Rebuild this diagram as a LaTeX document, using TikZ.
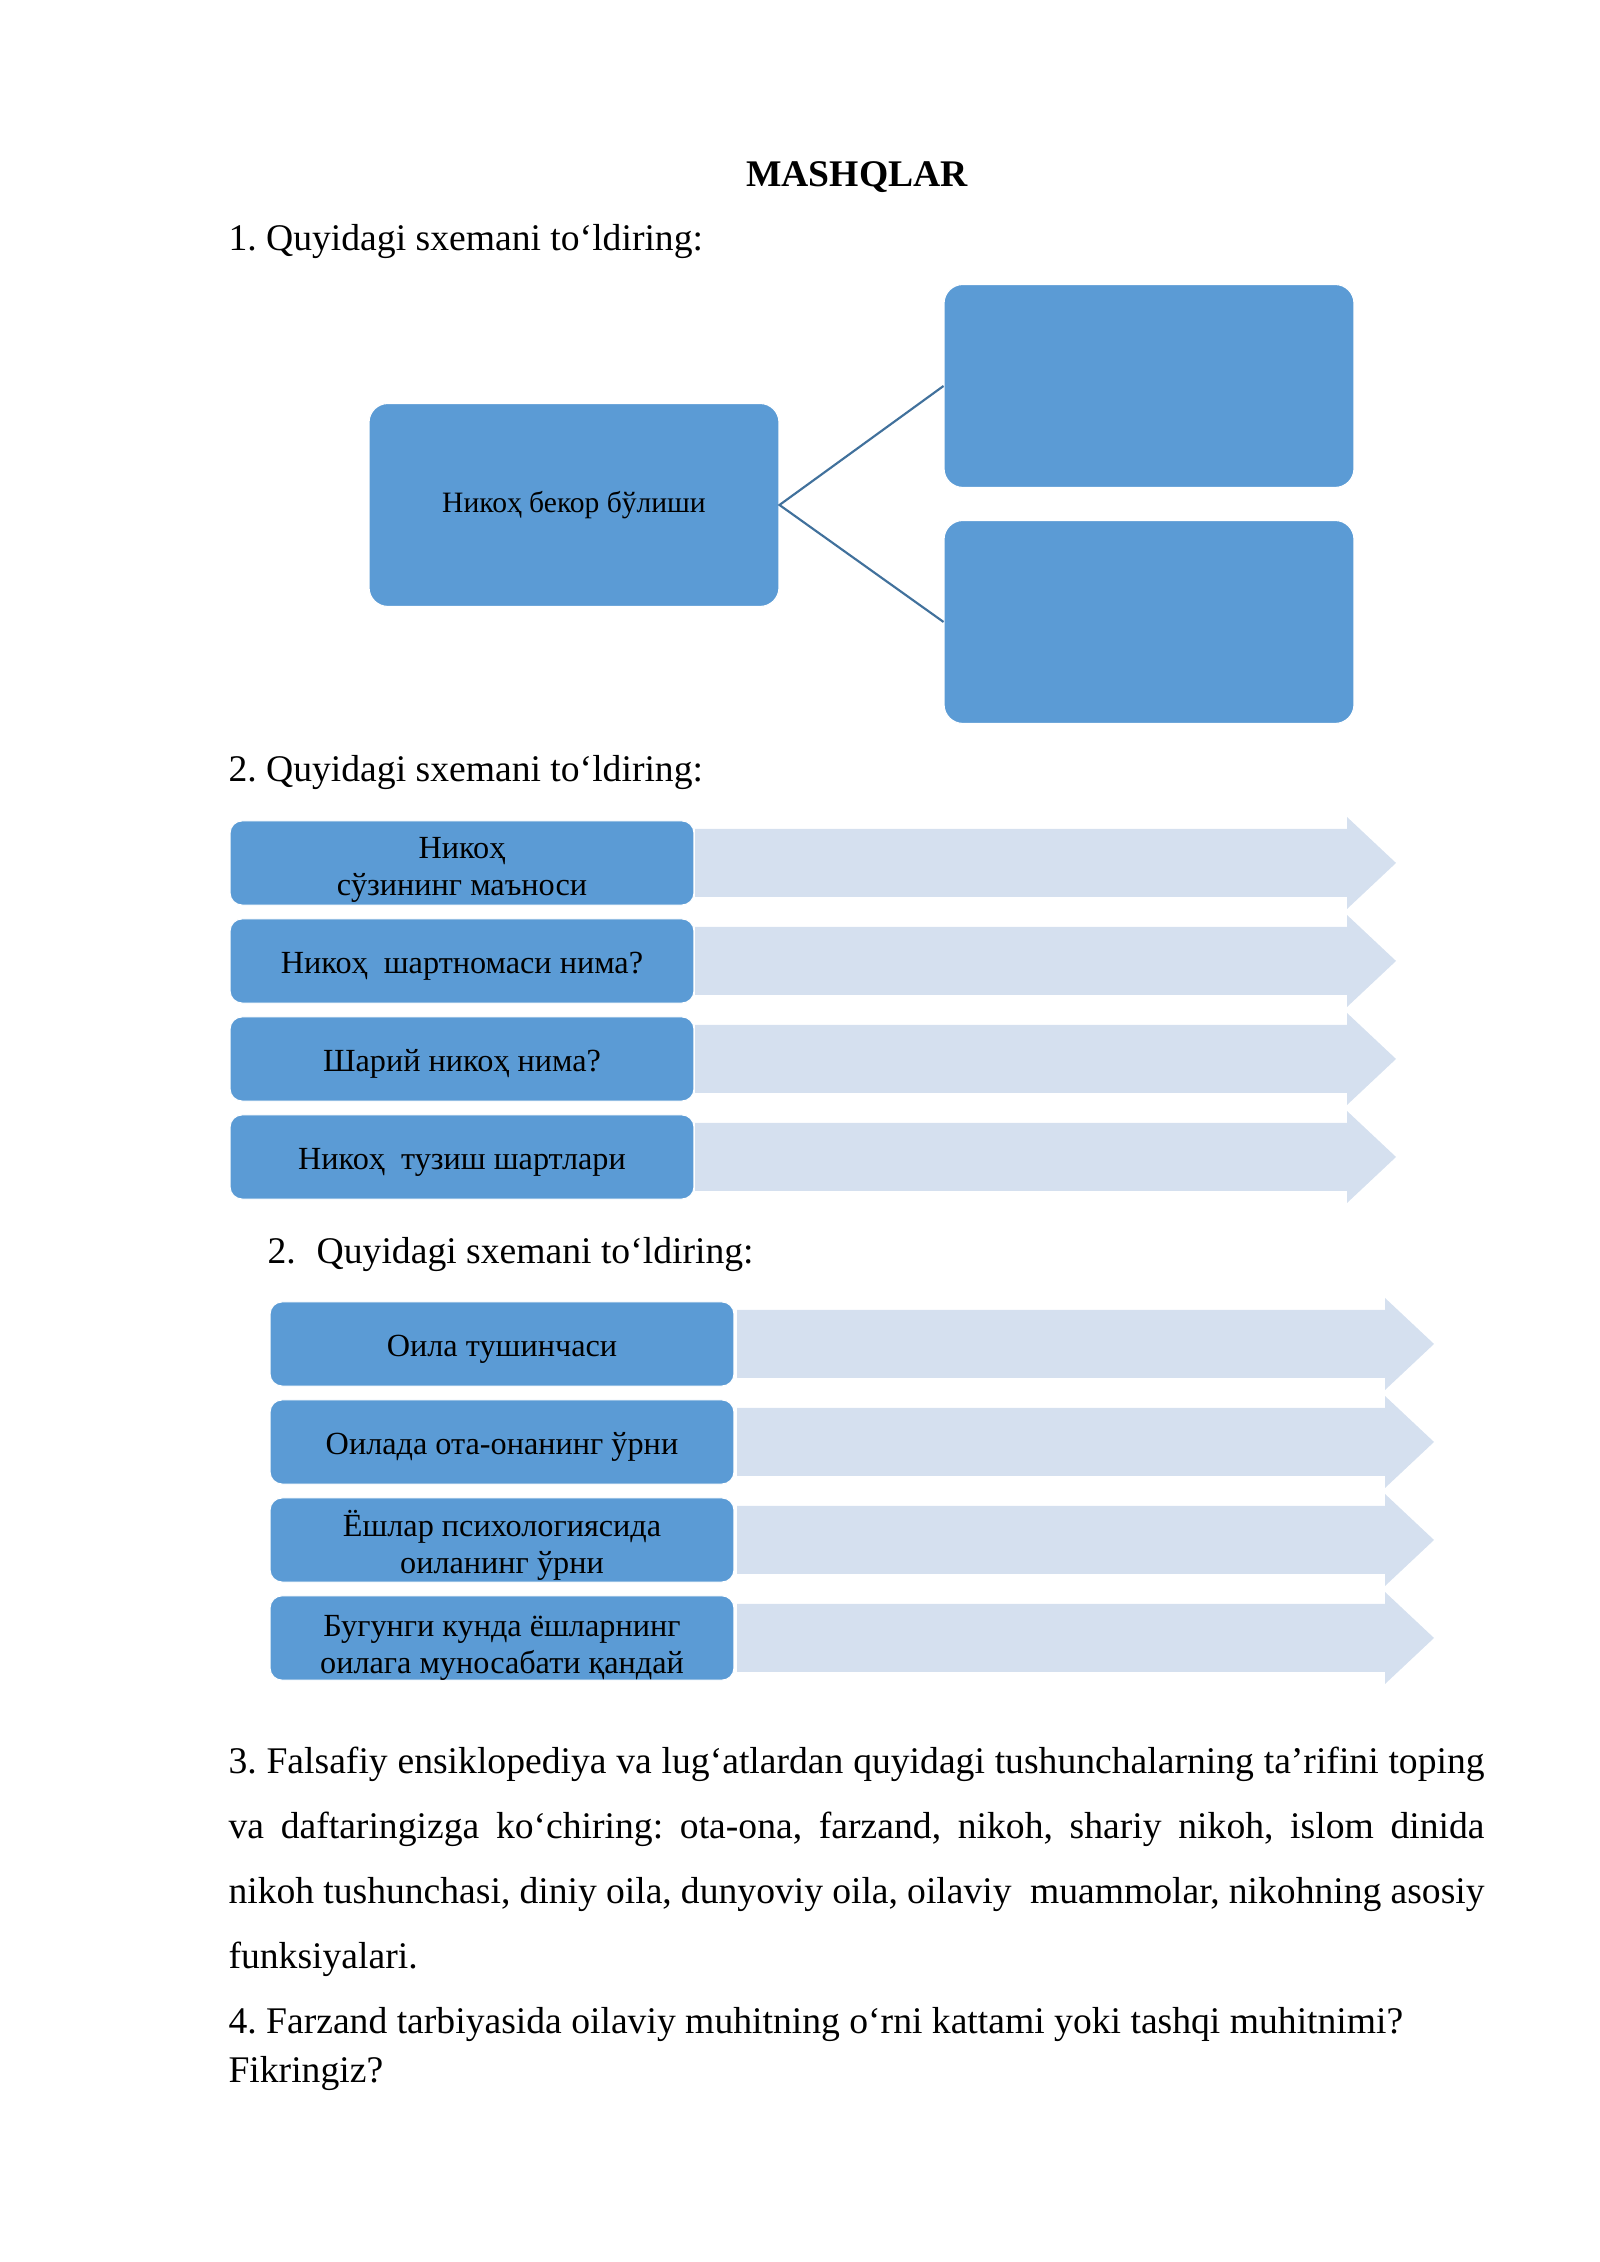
\documentclass[tikz,border=0pt]{standalone}
\usepackage{fontspec}
\setmainfont{Liberation Serif}
\frenchspacing
\definecolor{boxblue}{HTML}{5B9BD5}
\definecolor{paleblue}{HTML}{D5E0EF}
\definecolor{linkblue}{HTML}{41719C}
\begin{document}
\begin{tikzpicture}[
			x=0.37205pt, y=0.37205pt,
			bigbox/.style={rectangle,fill=boxblue,draw=white,line width=0.4pt,rounded corners=7pt,minimum width=152.5pt,minimum height=75.5pt,font=\fontsize{11}{13}\selectfont},
			rowbox/.style={rectangle,fill=boxblue,draw=white,line width=0.4pt,rounded corners=4.5pt,inner ysep=0pt,minimum width=172.6pt,minimum height=31.3pt,align=center,font=\fontsize{12}{13.8}\selectfont,execute at begin node={\rule{0pt}{12.2pt}}},
			body/.style={anchor=base west,inner sep=0,font=\fontsize{14}{17}\selectfont}
		]
		\useasboundingbox (0,0) rectangle (1600,2262);
		\node[anchor=base,inner sep=0,font=\bfseries\fontsize{14}{17}\selectfont] (title) at (857,2075) {MASHQLAR};
		\node[body] (q1) at (228,2011) {1. Quyidagi sxemani to‘ldiring:};
		\node[bigbox] (nb) at (574,1757) {Никоҳ бекор бўлиши};
		\node[bigbox] (r1) at (1149,1876) {};
		\node[bigbox] (r2) at (1149,1640) {};
		\draw[linkblue,line width=0.8pt] (r1.west) -- (nb.east) -- (r2.west);
		\node[body] (q2) at (228,1480) {2. Quyidagi sxemani to‘ldiring:};
		\fill[paleblue] (695,1433) -- ++(652,0) -- ++(0,12) -- ++(49,-46) -- ++(-49,-46) -- ++(0,12) -- ++(-652,0) -- cycle;
		\fill[paleblue] (695,1335) -- ++(652,0) -- ++(0,12) -- ++(49,-46) -- ++(-49,-46) -- ++(0,12) -- ++(-652,0) -- cycle;
		\fill[paleblue] (695,1237) -- ++(652,0) -- ++(0,12) -- ++(49,-46) -- ++(-49,-46) -- ++(0,12) -- ++(-652,0) -- cycle;
		\fill[paleblue] (695,1139) -- ++(652,0) -- ++(0,12) -- ++(49,-46) -- ++(-49,-46) -- ++(0,12) -- ++(-652,0) -- cycle;
		\node[rowbox] (a1) at (462,1399) {\rule{0pt}{13pt}Никоҳ\\сўзининг маъноси};
		\node[rowbox] (a2) at (462,1301) {Никоҳ~ шартномаси нима?};
		\node[rowbox] (a3) at (462,1203) {Шарий никоҳ нима?};
		\node[rowbox] (a4) at (462,1105) {Никоҳ~ тузиш шартлари};
		\node[body] (q3) at (267,998) {2.\hspace{7.8pt}Quyidagi sxemani to‘ldiring:};
		\fill[paleblue] (737,952) -- ++(648,0) -- ++(0,12) -- ++(49,-46) -- ++(-49,-46) -- ++(0,12) -- ++(-648,0) -- cycle;
		\fill[paleblue] (737,854) -- ++(648,0) -- ++(0,12) -- ++(49,-46) -- ++(-49,-46) -- ++(0,12) -- ++(-648,0) -- cycle;
		\fill[paleblue] (737,756) -- ++(648,0) -- ++(0,12) -- ++(49,-46) -- ++(-49,-46) -- ++(0,12) -- ++(-648,0) -- cycle;
		\fill[paleblue] (737,658) -- ++(648,0) -- ++(0,12) -- ++(49,-46) -- ++(-49,-46) -- ++(0,12) -- ++(-648,0) -- cycle;
		\node[rowbox] (b1) at (502,918) {Оила тушинчаси};
		\node[rowbox] (b2) at (502,820) {Оилада ота-онанинг ўрни};
		\node[rowbox] (b3) at (502,722) {\rule{0pt}{13.5pt}Ёшлар психологиясида\\оиланинг ўрни};
		\node[rowbox] (b4) at (502,624) {\rule{0pt}{15pt}Бугунги кунда ёшларнинг\\оилага муносабати қандай};
		\node[body,text width=467.3pt,align=justify,font=\fontsize{14}{24.07}\selectfont] (p3) at (228,488) {3. Falsafiy ensiklopediya va lug‘atlardan quyidagi tushunchalarning ta’rifini toping\linebreak va daftaringizga ko‘chiring: ota-ona, farzand, nikoh, shariy nikoh, islom dinida\linebreak nikoh tushunchasi, diniy oila, dunyoviy oila, oilaviy~ muammolar, nikohning asosiy\linebreak funksiyalari.};
		\node[body,align=left,font=\fontsize{14}{18.6}\selectfont] (p4) at (228,179) {4. Farzand tarbiyasida oilaviy muhitning o‘rni kattami yoki tashqi muhitnimi?\\Fikringiz?};
	\end{tikzpicture}
\end{document}
